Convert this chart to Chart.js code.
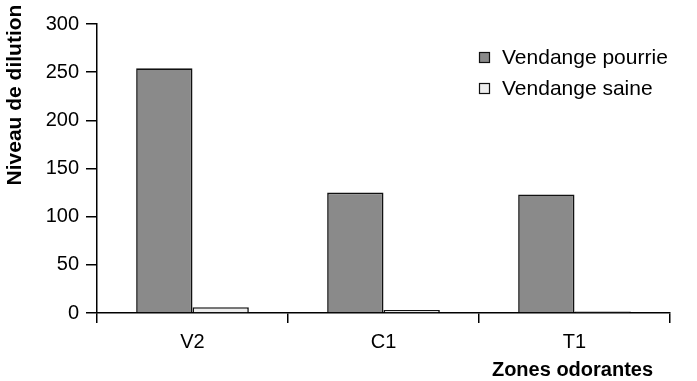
<!DOCTYPE html>
<html lang="fr">
<head>
<meta charset="utf-8">
<title>Niveau de dilution par zone odorante</title>
<script src="https://cdn.jsdelivr.net/npm/chart.js@4/dist/chart.umd.min.js"></script>
<style>
  html, body { margin: 0; padding: 0; background: #fff; }
  #wrap { width: 697px; height: 381px; }
</style>
</head>
<body>
<div id="wrap"><canvas id="dilutionChart"></canvas></div>
<script>
// Values
const zones = ["V2", "C1", "T1"];
const pourrie = [254, 125, 123];
const saine = [6, 3, 1.5];
const yTicks = [0, 50, 100, 150, 200, 250, 300];

const FONT = "'Liberation Sans', Arial, sans-serif";
const INK = "#000";

// Axis titles and legend are drawn by hand so they can sit where the figure has them
const decorations = {
  id: "decorations",
  afterDraw(chart) {
    const { ctx, scales } = chart;
    ctx.save();
    ctx.fillStyle = INK;
    ctx.font = `bold 21px ${FONT}`;
    ctx.textAlign = "center";
    ctx.textBaseline = "middle";

    // y title, rotated, towards the top
    ctx.save();
    ctx.translate(15, 95);
    ctx.rotate(-Math.PI / 2);
    ctx.fillText("Niveau de dilution", 0, 0);
    ctx.restore();

    // x title under the last category
    ctx.font = `bold 20px ${FONT}`;
    ctx.fillText("Zones odorantes", scales.x.getPixelForValue(zones.length - 1) - 2, 370);

    // legend in the top right of the plot
    ctx.font = `21px ${FONT}`;
    ctx.textAlign = "left";
    chart.data.datasets.forEach((ds, i) => {
      const y = 58 + i * 31;
      ctx.fillStyle = ds.backgroundColor;
      ctx.fillRect(479.5, y - 5.5, 10, 10);
      ctx.strokeStyle = ds.borderColor;
      ctx.lineWidth = 1.2;
      ctx.strokeRect(479.5, y - 5.5, 10, 10);
      ctx.fillStyle = INK;
      ctx.fillText(ds.label, 502, y);
    });
    ctx.restore();
  }
};

const ctx = document.getElementById("dilutionChart").getContext("2d");

new Chart(ctx, {
  type: "bar",
  data: {
    labels: zones,
    datasets: [
      {
        label: "Vendange pourrie",
        data: pourrie,
        backgroundColor: "#8a8a8a",
        borderColor: "#111",
        borderWidth: 1.6,
      },
      {
        label: "Vendange saine",
        data: saine,
        backgroundColor: "#ededed",
        borderColor: "#111",
        borderWidth: 1.6,
      },
    ],
  },
  options: {
    responsive: true,
    maintainAspectRatio: false,
    animation: false,
    layout: {
      padding: { top: 24, right: 27, left: 0, bottom: 0 },
    },
    datasets: {
      bar: {
        barPercentage: 1,
        categoryPercentage: 0.59,
      },
    },
    plugins: {
      legend: { display: false },
      tooltip: { enabled: false },
    },
    scales: {
      x: {
        afterFit: (scale) => { scale.height = 68; },
        grid: {
          offset: true,
          drawOnChartArea: false,
          color: INK,
          lineWidth: 1.5,
          tickLength: 10,
        },
        border: { color: INK, width: 1.5 },
        ticks: {
          color: INK,
          padding: 7,
          font: { family: FONT, size: 20 },
        },
      },
      y: {
        min: 0,
        max: 300,
        afterFit: (scale) => { scale.width = 97; },
        afterBuildTicks: (scale) => {
          scale.ticks = yTicks.map((v) => ({ value: v }));
        },
        grid: {
          drawOnChartArea: false,
          color: INK,
          lineWidth: 1.5,
          tickLength: 11,
        },
        border: { color: INK, width: 1.5 },
        ticks: {
          color: INK,
          padding: 7,
          font: { family: FONT, size: 20 },
        },
      },
    },
  },
  plugins: [decorations],
});
</script>
</body>
</html>
